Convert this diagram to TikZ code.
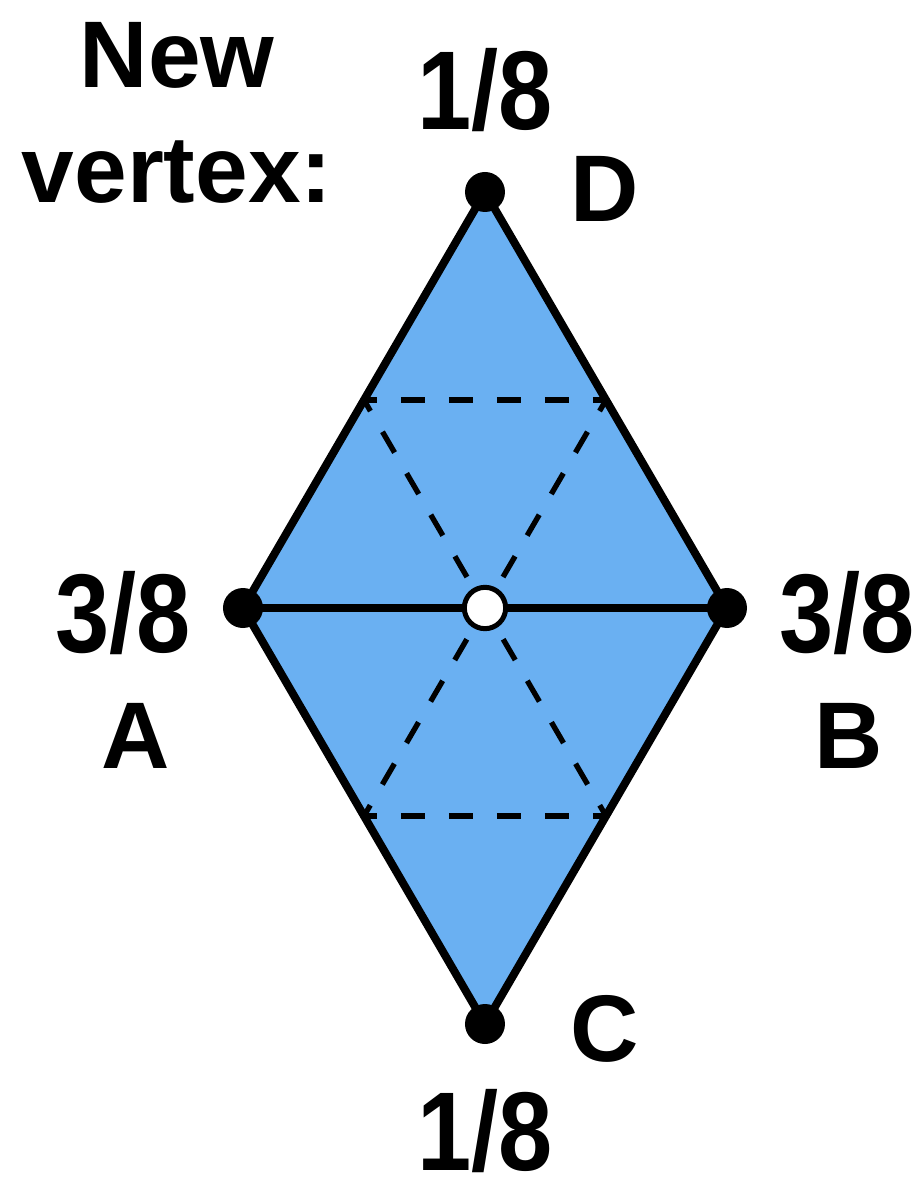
\documentclass[tikz,border=0pt]{standalone}
\usepackage{fontspec}
\setmainfont{Liberation Sans}
\newfontfamily\fracfont[FakeStretch=0.87]{Liberation Sans}
\usetikzlibrary{calc}
\definecolor{facecol}{RGB}{106,176,242}

\begin{document}
\begin{tikzpicture}[
    x=0.75pt, y=0.75pt,
    vertex/.style={circle, fill=black, inner sep=0pt, minimum size=30pt},
    newpt/.style={circle, draw=black, fill=white, line width=3.75pt, inner sep=0pt, minimum size=31pt},
    rim/.style={line width=6pt},
    seam/.style={line width=4pt, dash pattern=on 18pt off 18pt, dash phase=8.4pt},
    lbl/.style={anchor=base, font=\bfseries\fontsize{71}{86}\selectfont},
    frac/.style={anchor=base, font=\fracfont\bfseries\fontsize{84}{100}\selectfont}
]
\useasboundingbox (-485,-585) rectangle (436,608);

\coordinate (D) at (0,416);
\coordinate (A) at (-242,0);
\coordinate (B) at (242,0);
\coordinate (C) at (0,-416);
\coordinate (O) at (0,0);

% midpoints of the outer edges
\coordinate (mDA) at ($(D)!0.5!(A)$);
\coordinate (mDB) at ($(D)!0.5!(B)$);
\coordinate (mAC) at ($(A)!0.5!(C)$);
\coordinate (mBC) at ($(B)!0.5!(C)$);

\fill[facecol] (D) -- (A) -- (C) -- (B) -- cycle;

% dashed split
\draw[seam] (mDA) -- (mDB);
\draw[seam] (mAC) -- (mBC);
\draw[seam] (mDA) -- (mBC);
\draw[seam] (mDB) -- (mAC);

% edges
\draw[rim] (D) -- (A) -- (C) -- (B) -- cycle;
\draw[rim] (A) -- (B);

\node[vertex] (vD) at (D) {};
\node[vertex] (vA) at (A) {};
\node[vertex] (vB) at (B) {};
\node[vertex] (vC) at (C) {};
\node[newpt] (vO) at (O) {};

% labels
\node[lbl] (new) at (-308,520) {New};
\node[lbl] (vtx) at (-308,405) {vertex:};
\node[frac] (wD) at (0,478) {1/8};
\node[lbl] (nD) at (120,386) {D};
\node[frac] (wA) at (-362,-44) {3/8};
\node[lbl] (nA) at (-349,-160) {A};
\node[frac] (wB) at (362,-44) {3/8};
\node[lbl] (nB) at (364,-160) {B};
\node[lbl] (nC) at (120,-453) {C};
\node[frac] (wC) at (0,-562) {1/8};

\end{tikzpicture}
\end{document}
